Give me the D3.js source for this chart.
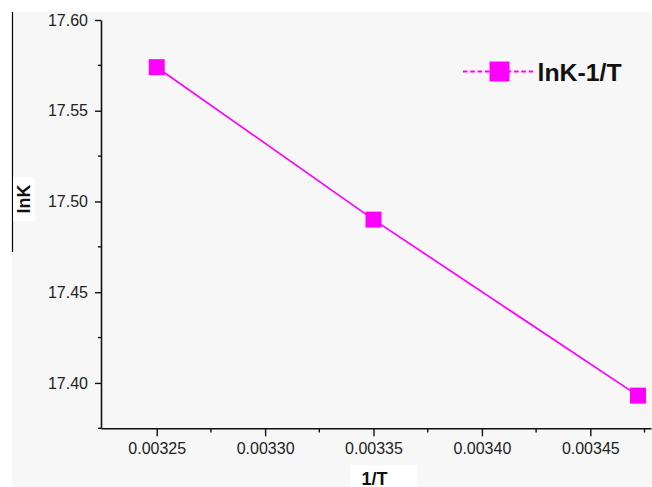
<!DOCTYPE html>
<html>
<head>
<meta charset="utf-8">
<script src="https://cdn.jsdelivr.net/npm/d3@7"></script>
<style>
  html, body { margin: 0; padding: 0; background: #ffffff; }
  svg { display: block; }
</style>
</head>
<body>
<svg id="chart" width="652" height="487"></svg>
<script>
// ---- data ----
const xValues = [0.00325, 0.00335, 0.003472];
const yValues = [17.574, 17.490, 17.393];
const seriesName = "lnK-1/T";
const xTicks = [0.00325, 0.00330, 0.00335, 0.00340, 0.00345];
const yTicks = [17.40, 17.45, 17.50, 17.55, 17.60];
const xMinorTicks = [0.003275, 0.003325, 0.003375, 0.003425, 0.003475];
const yMinorTicks = [17.375, 17.425, 17.475, 17.525, 17.575];
const xTitle = "1/T";
const yTitle = "lnK";

const svg = d3.select("#chart");
const W = 652, H = 487;
const color = "#ff00ff";
const font = "'Liberation Sans', Arial, sans-serif";

// background panel
svg.append("rect").attr("x", 12).attr("y", 12).attr("width", W - 12).attr("height", H - 12)
  .attr("fill", "#f7f7f7");
// black left line
svg.append("line").attr("x1", 12.5).attr("x2", 12.5).attr("y1", 12).attr("y2", 252)
  .attr("stroke", "#000").attr("stroke-width", 1.2);

const x = d3.scaleLinear().domain([0.0032243, 0.003478]).range([101, 651]);
const y = d3.scaleLinear().domain([17.375, 17.60]).range([428.3, 20]);

// y axis
const yAxis = svg.append("g").attr("transform", "translate(101,0)")
  .call(d3.axisLeft(y).tickValues(yTicks).tickFormat(d3.format(".2f")).tickSize(6).tickSizeOuter(0));
yAxis.select(".domain").attr("stroke", "#111").attr("stroke-width", 1.6);
yAxis.selectAll(".tick line").attr("stroke", "#111").attr("stroke-width", 1.4);
yAxis.selectAll(".tick text").attr("font-family", font).attr("font-size", 16).attr("fill", "#222").attr("x", -13);
svg.append("g").selectAll("line").data(yMinorTicks).join("line")
  .attr("x1", 98).attr("x2", 101).attr("y1", d => y(d)).attr("y2", d => y(d))
  .attr("stroke", "#111").attr("stroke-width", 1.4);

// x axis
const xAxis = svg.append("g").attr("transform", "translate(0,428.3)")
  .call(d3.axisBottom(x).tickValues(xTicks).tickFormat(d3.format(".5f")).tickSize(8).tickSizeOuter(0));
xAxis.select(".domain").attr("stroke", "#111").attr("stroke-width", 1.6);
xAxis.selectAll(".tick line").attr("stroke", "#111").attr("stroke-width", 1.4);
xAxis.selectAll(".tick text").attr("font-family", font).attr("font-size", 16).attr("fill", "#222").attr("y", 14);
svg.append("g").selectAll("line").data(xMinorTicks).join("line")
  .attr("x1", d => x(d)).attr("x2", d => x(d)).attr("y1", 428.3).attr("y2", 432.5)
  .attr("stroke", "#111").attr("stroke-width", 1.4);

// series line
const pts = xValues.map((v, i) => [v, yValues[i]]);
svg.append("path").datum(pts)
  .attr("d", d3.line().x(d => x(d[0])).y(d => y(d[1])))
  .attr("fill", "none").attr("stroke", color).attr("stroke-width", 1.7);
const ms = 16;
svg.append("g").selectAll("rect").data(pts).join("rect")
  .attr("x", d => x(d[0]) - ms / 2).attr("y", d => y(d[1]) - ms / 2)
  .attr("width", ms).attr("height", ms).attr("fill", color);

// legend
const lg = svg.append("g");
lg.append("line").attr("x1", 463).attr("x2", 536).attr("y1", 71.5).attr("y2", 71.5)
  .attr("stroke", color).attr("stroke-width", 2).attr("stroke-dasharray", "4.5,2.8");
lg.append("rect").attr("x", 489.5).attr("y", 61.5).attr("width", 20).attr("height", 20).attr("fill", color);
lg.append("text").attr("x", 537.5).attr("y", 80.5).text(seriesName)
  .attr("font-family", font).attr("font-weight", "bold").attr("font-size", 24.8).attr("fill", "#111");

// y title with white box
svg.append("rect").attr("x", 13).attr("y", 177).attr("width", 21.5).attr("height", 44).attr("fill", "#fff");
svg.append("text").attr("transform", "translate(29.5,199) rotate(-90)")
  .attr("text-anchor", "middle").text(yTitle)
  .attr("font-family", font).attr("font-weight", "bold").attr("font-size", 18).attr("fill", "#111");

// x title with white box
svg.append("rect").attr("x", 350).attr("y", 465).attr("width", 67).attr("height", 22).attr("fill", "#fff");
svg.append("text").attr("x", 361.5).attr("y", 484.5).text(xTitle)
  .attr("font-family", font).attr("font-weight", "bold").attr("font-size", 18).attr("fill", "#111");
</script>
</body>
</html>
